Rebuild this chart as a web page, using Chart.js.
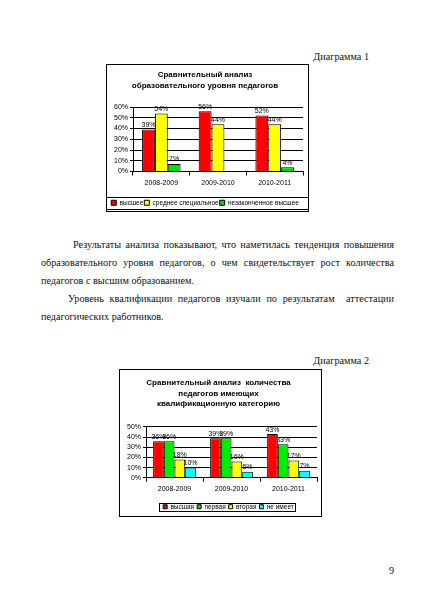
<!DOCTYPE html>
<html lang="ru">
<head>
<meta charset="utf-8">
<title>Диаграммы</title>
<script src="https://cdn.jsdelivr.net/npm/chart.js@4.4.1/dist/chart.umd.min.js"></script>
<style>
  html, body { margin: 0; padding: 0; background: #fff; }
  body { width: 424px; height: 600px; position: relative; overflow: hidden;
         font-family: "Liberation Serif", "DejaVu Serif", "Times New Roman", serif; color: #111; }
  .t { position: absolute; font-family: "Liberation Serif", "DejaVu Serif", serif; font-size: 10.2px; line-height: 12px; white-space: nowrap; }
  .j { text-align: justify; text-align-last: justify; white-space: normal; }
  .box { position: absolute; border: 1px solid #000; width: 201px; height: 146px; background: #fff; }
  .box canvas { display: block; }
</style>
</head>
<body>
  <div class="t" style="right:55px; top:51px;">Диаграмма 1</div>
  <div class="box" style="left:106px; top:64px;"><canvas id="eduChart" width="201" height="146"></canvas></div>

  <div class="t j" style="left:73px; width:321px; top:239px;">Результаты анализа показывают, что наметилась тенденция повышения</div>
  <div class="t j" style="left:41px; width:353px; top:257px;">образовательного уровня педагогов, о чем свидетельствует рост количества</div>
  <div class="t" style="left:41px; top:275px;">педагогов с высшим образованием.</div>
  <div class="t j" style="left:68px; width:326px; top:293px;">Уровень квалификации педагогов изучали по результатам &nbsp;аттестации</div>
  <div class="t" style="left:41px; top:311px;">педагогических работников.</div>

  <div class="t" style="right:55px; top:355px;">Диаграмма 2</div>
  <div class="box" style="left:119px; top:369px;"><canvas id="catChart" width="201" height="146"></canvas></div>

  <div class="t" style="left:389px; top:565px;">9</div>

<script>
  // Диаграмма 1
  const years = ['2008-2009', '2009-2010', '2010-2011'];
  const eduNames = ['высшее', 'среднее специальное', 'незаконченное высшее'];
  const eduHigher = [39, 56, 52];
  const eduSecondary = [54, 44, 44];
  const eduIncomplete = [7, null, 4];

  // Диаграмма 2
  const catNames = ['высшая', 'первая', 'вторая', 'не имеет'];
  const catHighest = [36, 39, 43];
  const catFirst = [36, 39, 33];
  const catSecond = [18, 16, 17];
  const catNone = [10, 6, 7];

  Chart.defaults.font.family = '"Liberation Sans", Arial, sans-serif';
  Chart.defaults.font.size = 7;
  Chart.defaults.color = '#000';

  // value labels above each bar
  const barLabels = {
    id: 'barLabels',
    afterDatasetsDraw(chart) {
      const ctx = chart.ctx;
      ctx.save();
      ctx.font = '7px "Liberation Sans", Arial, sans-serif';
      ctx.fillStyle = '#000';
      ctx.textAlign = 'center';
      ctx.textBaseline = 'bottom';
      chart.data.datasets.forEach((ds, i) => {
        chart.getDatasetMeta(i).data.forEach((bar, j) => {
          if (ds.data[j] == null) return;
          ctx.fillText(ds.data[j] + '%', bar.x, bar.y - 1);
        });
      });
      ctx.restore();
    }
  };

  // thin frame round the legend, like the spreadsheet one
  const legendFrame = {
    id: 'legendFrame',
    afterLayout(chart, args, opts) {
      // the second legend sits a little right of centre
      if (opts.dx && chart.legend) {
        chart.legend.left += opts.dx;
        chart.legend.right += opts.dx;
      }
    },
    afterDraw(chart, args, opts) {
      const boxes = chart.legend && chart.legend.legendHitBoxes;
      if (!boxes || !boxes.length) return;
      let l = Math.min(...boxes.map(b => b.left)) - (opts.padL || 0);
      let r = Math.max(...boxes.map(b => b.left + b.width)) + (opts.padR || 0);
      const t = Math.round(Math.min(...boxes.map(b => b.top)) - opts.padY);
      const btm = Math.round(Math.max(...boxes.map(b => b.top + b.height)) + opts.padY);
      if (opts.full) { l = -1; r = chart.width + 1; }
      const ctx = chart.ctx;
      ctx.save();
      ctx.strokeStyle = '#000';
      ctx.lineWidth = 1;
      ctx.strokeRect(Math.round(l) + 0.5, t + 0.5, Math.round(r - l), btm - t);
      ctx.restore();
    }
  };

  function bars(label, data, color) {
    return { label, data, backgroundColor: color, borderColor: '#000', borderWidth: 1 };
  }

  function scales(yMax, xHeight) {
    return {
      x: {
        grid: { offset: true, drawOnChartArea: false, color: '#000', tickLength: 4 },
        border: { color: '#000' },
        ticks: { padding: 3 },
        afterFit: (s) => { s.height = xHeight; }
      },
      y: {
        min: 0,
        max: yMax,
        ticks: { stepSize: 10, padding: 2, autoSkip: false, callback: (v) => v + '%' },
        grid: { color: '#000', tickLength: 3 },
        border: { color: '#000' },
        afterFit: (s) => { s.width = 26; }
      }
    };
  }

  new Chart(document.getElementById('eduChart'), {
    type: 'bar',
    data: {
      labels: years,
      datasets: [
        bars(eduNames[0], eduHigher, '#ff0000'),
        bars(eduNames[1], eduSecondary, '#ffff00'),
        bars(eduNames[2], eduIncomplete, '#00e000')
      ]
    },
    options: {
      responsive: false,
      animation: false,
      categoryPercentage: 0.68,
      barPercentage: 1,
      layout: { padding: { left: 0, right: 5, top: 0, bottom: -5 } },
      plugins: {
        title: {
          display: true,
          text: ['Сравнительный анализ', 'образовательного уровня педагогов'],
          font: { size: 8, weight: 'bold', lineHeight: 1.375 },
          padding: { top: 4.5, bottom: 15.5 }
        },
        legend: {
          position: 'bottom',
          labels: { boxWidth: 5, boxHeight: 5, padding: 1, font: { size: 6.5 } }
        },
        legendFrame: { full: true, padY: 3 },
        tooltip: { enabled: false }
      },
      scales: scales(60, 27)
    },
    plugins: [barLabels, legendFrame]
  });

  new Chart(document.getElementById('catChart'), {
    type: 'bar',
    data: {
      labels: years,
      datasets: [
        bars(catNames[0], catHighest, '#ff0000'),
        bars(catNames[1], catFirst, '#00ee00'),
        bars(catNames[2], catSecond, '#ffff00'),
        bars(catNames[3], catNone, '#00ffff')
      ]
    },
    options: {
      responsive: false,
      animation: false,
      categoryPercentage: 0.75,
      barPercentage: 1,
      layout: { padding: { left: 0, right: 4, top: 0, bottom: -4 } },
      plugins: {
        title: {
          display: true,
          text: ['Сравнительный анализ  количества', 'педагогов имеющих', 'квалификационную категорию'],
          font: { size: 8, weight: 'bold', lineHeight: 1.32 },
          padding: { top: 7.7, bottom: 17.6 }
        },
        legend: {
          position: 'bottom',
          labels: { boxWidth: 4, boxHeight: 4, padding: 3, font: { size: 6.5 } }
        },
        legendFrame: { padL: 4, padR: 1, padY: 1, dx: 10 },
        tooltip: { enabled: false }
      },
      scales: scales(50, 22.75)
    },
    plugins: [barLabels, legendFrame]
  });
</script>
</body>
</html>
